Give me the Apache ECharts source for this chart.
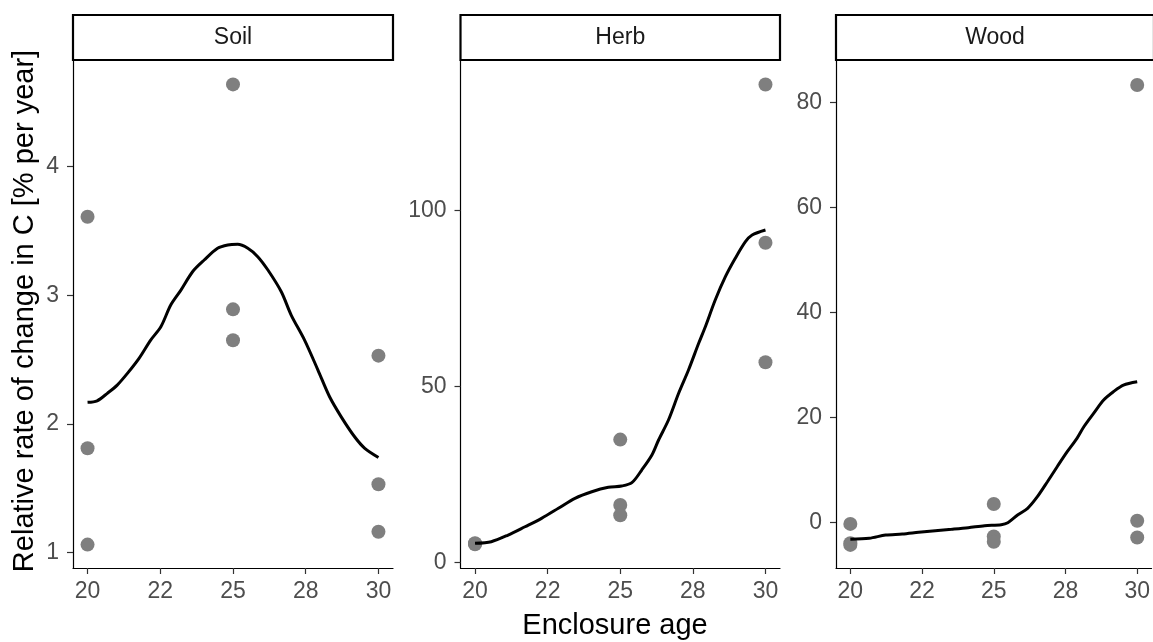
<!DOCTYPE html>
<html>
<head>
<meta charset="utf-8">
<script src="https://cdn.jsdelivr.net/npm/echarts@6/dist/echarts.min.js"></script>
<style>
  html, body { margin: 0; padding: 0; background: #fff; }
  #chart { width: 1153px; height: 642px; }
</style>
</head>
<body>
<div id="chart"></div>
<script>
// ---------- data ----------
const panelNames = ['Soil', 'Herb', 'Wood'];
const xTickValues = [20, 22.5, 25, 27.5, 30];
const xTickLabels = ['20', '22', '25', '28', '30'];

const soilYTicks = [1, 2, 3, 4];
const herbYTicks = [0, 50, 100];
const woodYTicks = [0, 20, 40, 60, 80];

// observed points
const soilAge  = [20, 20, 20, 25, 25, 25, 30, 30, 30];
const soilRate = [3.61, 1.81, 1.06, 4.64, 2.89, 2.65, 2.53, 1.53, 1.16];
const herbAge  = [20, 20, 20, 25, 25, 25, 30, 30, 30];
const herbRate = [5.3, 5.1, 5.4, 34.9, 16.3, 13.4, 135.9, 90.9, 56.9];
const woodAge  = [20, 20, 20, 25, 25, 25, 30, 30, 30];
const woodRate = [-0.3, -4.0, -4.3, 3.5, -2.7, -3.7, 83.3, 0.3, -2.9];

// fitted curves
const soilFitAge  = [20.0, 20.33, 20.68, 21.02, 21.37, 21.77, 22.17, 22.52, 22.86, 23.21, 23.61, 24.01, 24.47, 24.82, 25.16, 25.51, 25.85, 26.2, 26.66, 27.0, 27.46, 27.92, 28.32, 28.72, 29.18, 29.53, 30.0];
const soilFitRate = [2.167, 2.179, 2.237, 2.301, 2.392, 2.509, 2.651, 2.755, 2.924, 3.04, 3.183, 3.274, 3.365, 3.391, 3.396, 3.365, 3.3, 3.196, 3.027, 2.846, 2.651, 2.418, 2.21, 2.054, 1.899, 1.809, 1.738];
const herbFitAge  = [20.0, 20.56, 21.14, 21.72, 22.29, 22.87, 23.44, 24.02, 24.59, 25.05, 25.4, 25.74, 26.09, 26.32, 26.66, 27.01, 27.35, 27.7, 27.93, 28.27, 28.62, 28.96, 29.31, 29.54, 30.0];
const herbFitRate = [5.4, 5.86, 7.76, 10.12, 12.51, 15.36, 18.2, 20.08, 21.33, 21.7, 22.64, 26.25, 30.52, 34.78, 40.47, 48.07, 54.69, 62.29, 67.01, 74.6, 81.23, 86.46, 91.18, 93.09, 94.51];
const woodFitAge  = [20.0, 20.66, 21.23, 21.81, 22.38, 22.96, 23.53, 24.11, 24.68, 25.26, 25.49, 25.83, 26.18, 26.52, 26.87, 27.21, 27.56, 27.9, 28.14, 28.48, 28.83, 29.17, 29.52, 30.0];
const woodFitRate = [-3.24, -3.05, -2.42, -2.23, -1.9, -1.6, -1.33, -1.03, -0.65, -0.46, -0.08, 1.39, 2.67, 4.88, 7.73, 10.59, 13.45, 16.0, 18.21, 20.76, 23.3, 24.88, 26.15, 26.78];

const xTitle = 'Enclosure age';
const yTitle = 'Relative rate of change in C [% per year]';

// ---------- layout / style ----------
const FONT = 'Liberation Sans, Arial, sans-serif';
const plotTop = 60, plotBottom = 568, stripTop = 15;
const layout = [
  { left: 73,    width: 320,   ymin: 0.878, ymax: 4.83,  yticks: soilYTicks },
  { left: 460.5, width: 319.5, ymin: -1.62, ymax: 142.86, yticks: herbYTicks },
  { left: 836,   width: 318,   ymin: -8.7,  ymax: 88.06, yticks: woodYTicks }
];
const pts = [[soilAge, soilRate], [herbAge, herbRate], [woodAge, woodRate]];
const fits = [[soilFitAge, soilFitRate], [herbFitAge, herbFitRate], [woodFitAge, woodFitRate]];

const zip = (a, b) => a.map((v, i) => [v, b[i]]);
const labelFor = v => {
  const i = xTickValues.findIndex(t => Math.abs(t - v) < 1e-6);
  return i >= 0 ? xTickLabels[i] : '';
};

const grids = [], xAxes = [], yAxes = [], series = [], graphics = [];
layout.forEach((L, k) => {
  grids.push({ left: L.left, top: plotTop, width: L.width, height: plotBottom - plotTop, containLabel: false });
  xAxes.push({
    type: 'value', gridIndex: k, min: 19.5, max: 30.5,
    splitLine: { show: false },
    axisLine: { show: true, onZero: false, lineStyle: { color: '#000', width: 1.2 } },
    axisTick: { show: true, length: 6, customValues: xTickValues, lineStyle: { color: '#333', width: 1.2 } },
    axisLabel: { show: true, customValues: xTickValues, formatter: labelFor, color: '#4D4D4D', fontSize: 23, fontFamily: FONT, margin: 12 }
  });
  yAxes.push({
    type: 'value', gridIndex: k, min: L.ymin, max: L.ymax,
    splitLine: { show: false },
    axisLine: { show: true, onZero: false, lineStyle: { color: '#000', width: 1.2 } },
    axisTick: { show: true, length: 6, customValues: L.yticks, lineStyle: { color: '#333', width: 1.2 } },
    axisLabel: { show: true, customValues: L.yticks, color: '#4D4D4D', fontSize: 23, fontFamily: FONT, margin: 14 }
  });
  series.push({
    type: 'scatter', xAxisIndex: k, yAxisIndex: k,
    data: zip(pts[k][0], pts[k][1]),
    symbol: 'circle', symbolSize: 14,
    itemStyle: { color: '#7F7F7F', opacity: 1 },
    silent: true, z: 2
  });
  series.push({
    type: 'line', xAxisIndex: k, yAxisIndex: k,
    data: zip(fits[k][0], fits[k][1]),
    showSymbol: false, smooth: 0.3,
    lineStyle: { color: '#000', width: 3 },
    silent: true, z: 3
  });
  graphics.push({
    type: 'group',
    children: [
      { type: 'rect', shape: { x: L.left, y: stripTop, width: L.width, height: plotTop - stripTop },
        style: { fill: '#fff', stroke: '#000', lineWidth: 2.2 } },
      { type: 'text', x: L.left + L.width / 2, y: (stripTop + plotTop) / 2,
        style: { text: panelNames[k], fill: '#1A1A1A', font: '23px ' + FONT, textAlign: 'center', textVerticalAlign: 'middle' } }
    ]
  });
});

graphics.push({
  type: 'text', x: 615, y: 626,
  style: { text: xTitle, fill: '#000', font: '29px ' + FONT, textAlign: 'center', textVerticalAlign: 'middle' }
});
graphics.push({
  type: 'text', x: 25, y: 311, rotation: Math.PI / 2,
  style: { text: yTitle, fill: '#000', font: '29px ' + FONT, textAlign: 'center', textVerticalAlign: 'middle' }
});

const chart = echarts.init(document.getElementById('chart'), null, { renderer: 'canvas' });
chart.setOption({
  animation: false,
  backgroundColor: '#fff',
  grid: grids,
  xAxis: xAxes,
  yAxis: yAxes,
  series: series,
  graphic: graphics
});
</script>
</body>
</html>
